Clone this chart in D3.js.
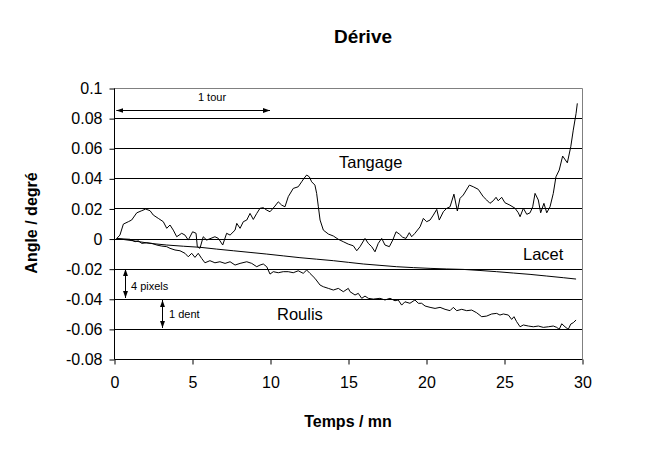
<!DOCTYPE html>
<html><head><meta charset="utf-8">
<script src="https://cdn.jsdelivr.net/npm/d3@7"></script>
<style>body{margin:0;background:#fff}svg{font-family:"Liberation Sans",Arial,sans-serif}</style>
</head><body><svg id="c" width="653" height="453"></svg>
<script>
const xTicks = [0,5,10,15,20,25,30];
const yTicks = [-0.08,-0.06,-0.04,-0.02,0,0.02,0.04,0.06,0.08,0.1];
const yTickLabels = ["-0.08","-0.06","-0.04","-0.02","0","0.02","0.04","0.06","0.08","0.1"];

const tangageT = [0.17,0.38,0.60,0.92,1.13,1.46,1.78,2.03,2.31,2.52,2.84,3.16,3.38,3.59,3.80,4.02,4.34,4.55,4.76,5.04,5.26,5.34,5.51,5.72,5.94,6.47,6.69,6.97,7.22,7.44,7.76,7.87,8.08,8.29,8.51,8.72,8.93,9.15,9.36,9.57,9.79,10.0,10.32,10.53,10.75,10.96,11.17,11.49,11.81,12.03,12.18,12.35,12.52,12.67,12.88,12.99,13.10,13.21,13.42,13.74,14.06,14.38,14.70,15.02,15.34,15.56,15.77,16.09,16.30,16.52,16.73,16.94,17.16,17.37,17.65,17.87,18.08,18.29,18.51,18.72,18.93,19.08,19.29,19.62,19.83,20.04,20.26,20.47,20.69,20.85,21.11,21.33,21.54,21.79,22.01,22.18,22.39,22.78,23.03,23.35,23.67,23.89,24.10,24.31,24.49,24.63,24.85,25.06,25.38,25.71,25.92,26.03,26.24,26.46,26.67,26.84,26.99,27.20,27.35,27.56,27.74,27.95,28.16,28.33,28.54,28.76,29.06,29.28,29.44,29.62,29.70];
const tangageV = [0.0,0.0023,0.0096,0.0112,0.0123,0.0171,0.0185,0.0196,0.0185,0.0156,0.0134,0.0112,0.0068,0.0090,0.0056,0.0012,0.0035,0.0023,-0.0010,0.0045,0.0035,-0.0054,-0.0065,0.0012,-0.0010,0.0012,0.0001,-0.0043,0.0035,0.0023,0.0056,0.0101,0.0068,0.0112,0.0123,0.0167,0.0127,0.0167,0.0201,0.0205,0.0189,0.0178,0.0216,0.0244,0.0222,0.0211,0.0278,0.0333,0.0344,0.0377,0.0400,0.0422,0.0410,0.0377,0.0355,0.0300,0.0211,0.0123,0.0056,0.0030,0.0017,-0.0005,-0.0021,-0.0037,-0.0048,-0.0081,-0.0054,0.0001,-0.0032,-0.0054,-0.0088,-0.0032,0.0001,-0.0043,-0.0054,-0.0010,0.0045,0.0030,0.0008,0.0001,0.0039,0.0012,0.0035,0.0078,0.0134,0.0112,0.0123,0.0156,0.0194,0.0123,0.0178,0.0201,0.0211,0.0295,0.0183,0.0267,0.0289,0.0355,0.0344,0.0327,0.0278,0.0256,0.0234,0.0251,0.0274,0.0251,0.0274,0.0238,0.0222,0.0201,0.0171,0.0145,0.0201,0.0161,0.0171,0.0211,0.0300,0.0256,0.0171,0.0234,0.0171,0.0211,0.0300,0.0410,0.0455,0.0548,0.0503,0.0610,0.0720,0.0831,0.0898];

const lacetT = [0.17,1.24,2.31,3.38,4.45,5.51,6.58,7.65,8.72,9.79,10.85,11.92,12.99,14.06,15.02,15.98,17.05,18.12,19.19,20.26,21.33,22.39,23.46,24.53,25.60,26.67,27.74,28.80,29.62];
const lacetV = [0.0,-0.0015,-0.0032,-0.0043,-0.0051,-0.0058,-0.0070,-0.0081,-0.0092,-0.0103,-0.0115,-0.0127,-0.0137,-0.0147,-0.0158,-0.0169,-0.0178,-0.0187,-0.0193,-0.0198,-0.0202,-0.0205,-0.0212,-0.0220,-0.0229,-0.0238,-0.0249,-0.0260,-0.0269];

const roulisT = [0.17,1.03,1.35,1.56,1.78,2.10,2.42,2.74,3.06,3.38,3.59,3.91,4.23,4.55,4.76,4.98,5.19,5.40,5.62,5.83,6.15,6.47,6.79,7.12,7.44,7.76,8.08,8.51,8.83,9.15,9.36,9.57,9.79,10.0,10.21,10.53,10.85,11.17,11.49,11.81,12.13,12.35,12.56,12.88,13.21,13.42,13.74,14.06,14.38,14.70,15.02,15.13,15.45,15.66,15.88,16.09,16.30,16.62,17.05,17.37,17.69,18.01,18.22,18.44,18.65,18.97,19.29,19.51,19.72,19.94,20.26,20.58,20.90,21.22,21.54,21.75,21.97,22.29,22.61,22.93,23.25,23.57,23.89,24.21,24.53,24.74,24.96,25.28,25.49,25.64,25.81,26.03,26.24,26.56,26.88,27.20,27.52,27.84,28.16,28.38,28.54,28.70,28.91,29.12,29.28,29.44,29.62];
const roulisV = [0.0,-0.0005,-0.0021,-0.0015,-0.0032,-0.0028,-0.0032,-0.0043,-0.0050,-0.0054,-0.0065,-0.0076,-0.0081,-0.0098,-0.0121,-0.0098,-0.0125,-0.0098,-0.0132,-0.0161,-0.0147,-0.0161,-0.0154,-0.0165,-0.0154,-0.0176,-0.0165,-0.0154,-0.0165,-0.0187,-0.0176,-0.0169,-0.0187,-0.0236,-0.0220,-0.0227,-0.0220,-0.0220,-0.0227,-0.0214,-0.0231,-0.0209,-0.0231,-0.0264,-0.0309,-0.0320,-0.0331,-0.0342,-0.0331,-0.0353,-0.0331,-0.0353,-0.0375,-0.0364,-0.0397,-0.0382,-0.0397,-0.0402,-0.0397,-0.0408,-0.0397,-0.0413,-0.0408,-0.0442,-0.0420,-0.0430,-0.0408,-0.0430,-0.0430,-0.0448,-0.0457,-0.0464,-0.0457,-0.0470,-0.0479,-0.0457,-0.0479,-0.0470,-0.0479,-0.0475,-0.0493,-0.0519,-0.0515,-0.0501,-0.0497,-0.0508,-0.0501,-0.0508,-0.0537,-0.0519,-0.0552,-0.0586,-0.0574,-0.0581,-0.0586,-0.0581,-0.0590,-0.0586,-0.0581,-0.0590,-0.0603,-0.0566,-0.0586,-0.0603,-0.0568,-0.0559,-0.0541];

const L = 114, T = 88, W = 468, H = 271;
const svg = d3.select("#c");
const x = d3.scaleLinear().domain([0,30]).range([L, L+W]);
const y = d3.scaleLinear().domain([-0.08,0.1]).range([T+H, T]);

// grid lines
svg.append("g").selectAll("line").data(yTicks.filter(v => v < 0.099 && v > -0.079)).join("line")
  .attr("x1", L).attr("x2", L+W).attr("y1", d => Math.round(y(d))+0.5).attr("y2", d => Math.round(y(d))+0.5)
  .attr("stroke", "#000").attr("stroke-width", 1);
// plot border (top/right grey)
svg.append("path").attr("d", `M${L},${T+0.5}H${L+W+0.5}V${T+H}`).attr("fill","none").attr("stroke","#808080");

// axes
const xAxis = d3.axisBottom(x).tickValues(xTicks).tickSize(5).tickPadding(12).tickFormat(d3.format("d"));
const yAxis = d3.axisLeft(y).tickValues(yTicks).tickSize(5).tickPadding(7).tickFormat((d,i) => yTickLabels[i]);
const gx = svg.append("g").attr("transform", `translate(0.5,${T+H+0.5})`).call(xAxis);
const gy = svg.append("g").attr("transform", `translate(${L+0.5},0.5)`).call(yAxis);
[gx, gy].forEach(g => {
  g.select(".domain").attr("stroke","#000");
  g.selectAll(".tick line").attr("stroke","#000");
  g.selectAll("text").attr("font-size", 16).attr("fill","#000").attr("font-family","Liberation Sans, Arial, sans-serif");
});
gx.select(".domain").attr("d", `M${L},0H${L+W}`);
gy.select(".domain").attr("d", `M0,${T}V${T+H}`);

// series
const line = d3.line().x(d => x(d[0])).y(d => y(d[1]));
function draw(ts, vs) {
  svg.append("path").datum(ts.map((t,i)=>[t, vs[i]])).attr("d", line)
    .attr("fill","none").attr("stroke","#000").attr("stroke-width",1);
}
draw(lacetT, lacetV);
draw(roulisT, roulisV);
draw(tangageT, tangageV);

// arrow markers
const defs = svg.append("defs");
defs.append("marker").attr("id","ah").attr("viewBox","0 0 10 10").attr("refX",10).attr("refY",5)
  .attr("markerWidth",7).attr("markerHeight",7).attr("markerUnits","userSpaceOnUse").attr("orient","auto-start-reverse")
  .append("path").attr("d","M0,1.5L10,5L0,8.5Z").attr("fill","#000");

function arrow(x1,y1,x2,y2){
  svg.append("line").attr("x1",x1).attr("y1",y1).attr("x2",x2).attr("y2",y2)
    .attr("stroke","#000").attr("stroke-width",1)
    .attr("marker-start","url(#ah)").attr("marker-end","url(#ah)");
}
arrow(x(0.15), 110.5, x(10.0), 110.5);
arrow(125.5, 269, 125.5, 298);
arrow(162.5, 300, 162.5, 328);

function txt(s, px, py, size, weight, anchor){
  return svg.append("text").attr("x",px).attr("y",py).attr("font-size",size)
    .attr("font-weight",weight||"normal").attr("text-anchor",anchor||"start").attr("fill","#000").text(s);
}
txt("1 tour", 212, 101, 11, "normal", "middle");
txt("4 pixels", 131, 290, 11);
txt("1 dent", 169, 318, 11);
txt("Tangage", 339, 168, 16.5);
txt("Lacet", 523, 260, 16.5);
txt("Roulis", 277, 320, 16.5);

txt("Dérive", 363, 43, 19, "bold", "middle");
txt("Temps / mn", 348, 427, 16, "bold", "middle");
svg.append("text").attr("transform","translate(37,223) rotate(-90)").attr("text-anchor","middle")
  .attr("font-size",16).attr("font-weight","bold").attr("fill","#000").text("Angle / degré");
</script></body></html>
